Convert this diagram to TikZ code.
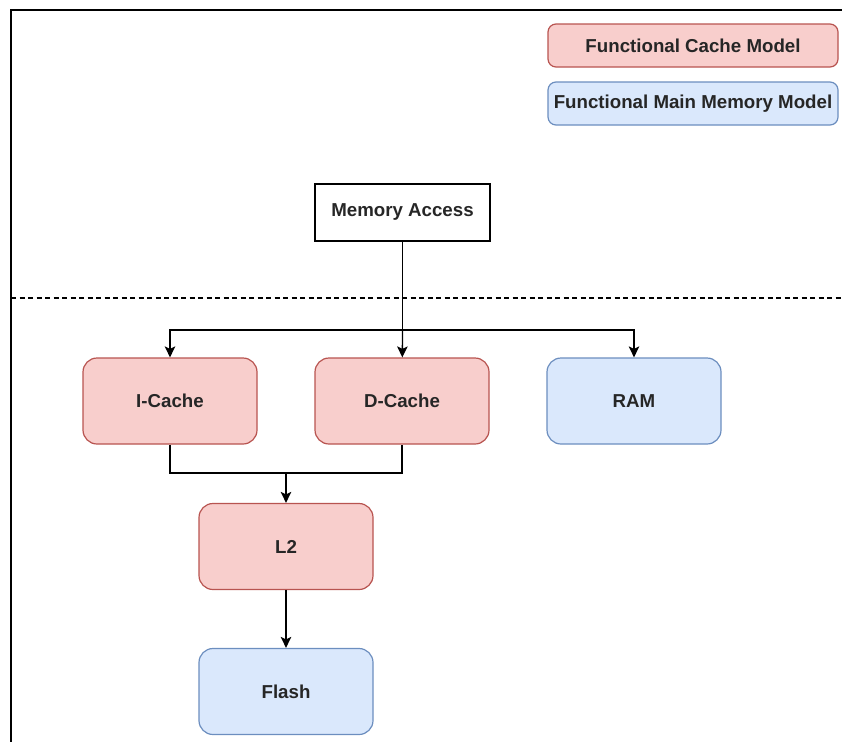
\documentclass[tikz,border=0pt]{standalone}
\usepackage{fontspec}
\setmainfont{Liberation Sans}
\usetikzlibrary{positioning,arrows.meta,calc}
\usepackage{xcolor}
\definecolor{cachefill}{HTML}{F8CECC}
\definecolor{cacheline}{HTML}{B85450}
\definecolor{memfill}{HTML}{DAE8FC}
\definecolor{memline}{HTML}{6C8EBF}

\begin{document}
\begin{tikzpicture}[x=1pt,y=-1pt,
      box/.style={draw,line width=1.2pt,rounded corners=14pt,minimum width=174pt,minimum height=86pt,
        font=\fontsize{18.7}{21}\selectfont\bfseries,text=black!85,inner sep=0pt},
      cache/.style={box,fill=cachefill,draw=cacheline},
      mem/.style={box,fill=memfill,draw=memline},
      legend/.style={rounded corners=8pt,minimum width=290pt,minimum height=43pt},
      arr/.style={line width=1.3pt,-{Stealth[length=11pt,width=10.5pt,inset=2.5pt]}},
      link/.style={line width=1.3pt}]
    \useasboundingbox (0,0) rectangle (842,742);
    \draw[line width=1.6pt] (842,10) -- (11,10) -- (11,742);

    \node[cache,legend] (lgcache) at (693,45.5) {Functional Cache Model};
    \node[mem,legend] (lgmem) at (693,103.5) {Functional Main Memory Model};

    \node[box,rounded corners=0pt,minimum width=175pt,minimum height=57pt] (access) at (402.5,212.5) {Memory Access};
    \draw[line width=1.3pt,dash pattern=on 5pt off 3.5pt] (11,298) -- (842,298);

    \node[cache] (icache) at (170,401) {I-Cache};
    \node[cache] (dcache) at (402,401) {D-Cache};
    \node[mem] (ram) at (634,401) {RAM};
    \node[cache] (l2) at (286,546.5) {L2};
    \node[mem] (flash) at (286,691.5) {Flash};

    \coordinate (split) at (402.5,330);
    \coordinate (merge) at (286,473);
    \draw[link] (access) -- (split);
    \draw[arr] (split) -| (icache);
    \draw[arr] (split) -- (dcache);
    \draw[arr] (split) -| (ram);
    \draw[link] (icache.south) |- (merge) -| (dcache.south);
    \draw[arr] (merge) -- (l2);
    \draw[arr] (l2) -- (flash);
  \end{tikzpicture}
\end{document}
